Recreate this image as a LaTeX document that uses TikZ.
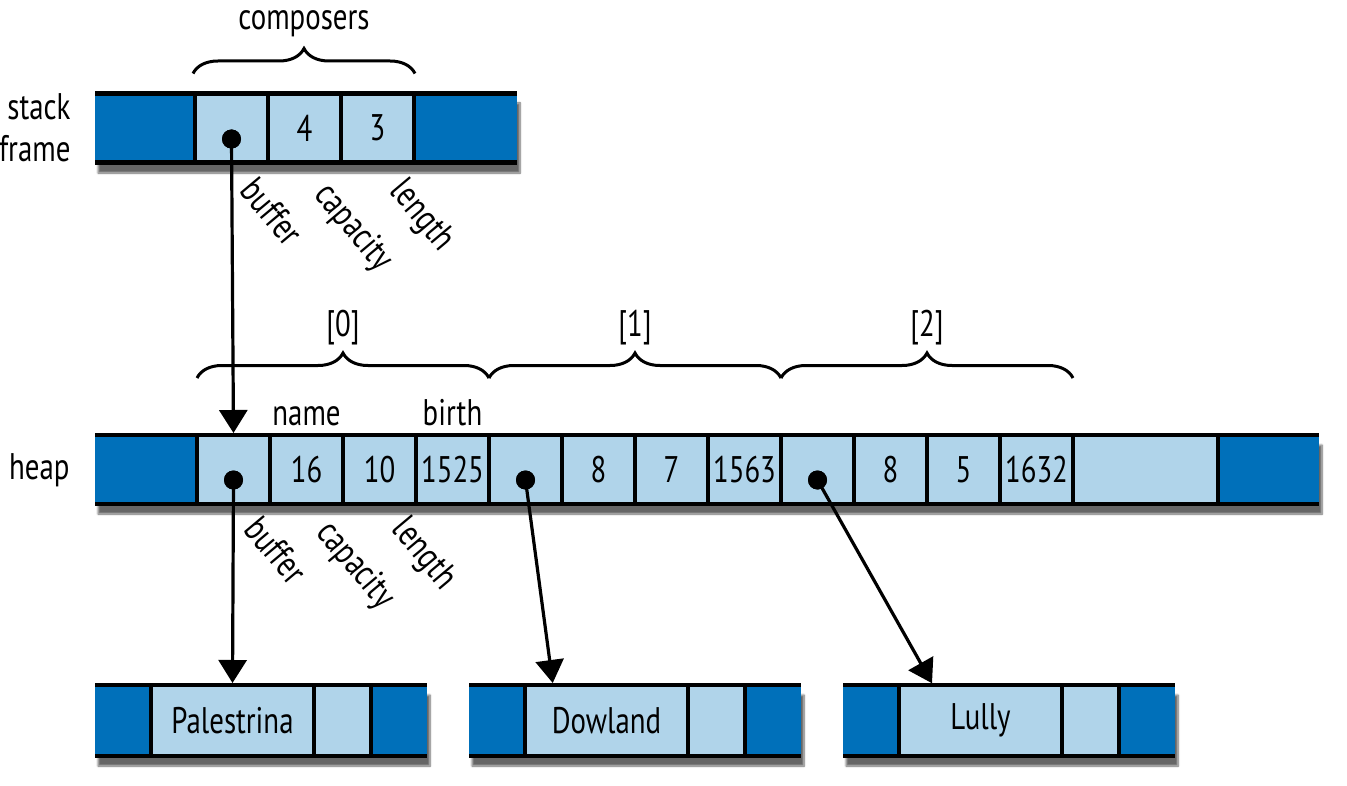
\documentclass[tikz,border=0pt]{standalone}
\usepackage{fontspec}
\setmainfont{PT Sans}[FakeStretch=0.78]
\usetikzlibrary{arrows.meta,decorations.pathreplacing,shadows.blur,calc}

\definecolor{darkcell}{RGB}{0,112,186}
\definecolor{lightcell}{RGB}{176,212,234}

\tikzset{
  cell/.style={fill=lightcell,minimum height=69pt,minimum width=73pt,inner sep=0pt,outer sep=0pt},
  endcell/.style={cell,fill=darkcell},
  rail/.style={line width=4.5pt},
  wall/.style={line width=4pt},
  ptr/.style={line width=3.2pt,shorten >=2pt,-{Triangle[width=28pt,length=23pt,fill=black]}},
  dot/.style={circle,fill=black,minimum size=19pt,inner sep=0pt},
  field/.style={rotate=-50,anchor=north west,inner sep=0pt},
  brc/.style={line width=3pt,decorate,decoration={brace,amplitude=25pt}},
  strip/.style={fill=white,blur shadow={shadow xshift=3pt,shadow yshift=-10pt,shadow blur steps=8,shadow opacity=60}},
}

\begin{document}
\begin{tikzpicture}[x=1pt,y=-1pt,font=\fontsize{37}{44}\selectfont]
  \useasboundingbox (0,0) rectangle (1347,786);

  % stack frame
  \fill[strip] (95,93) rectangle (517,163);
  \node[endcell,minimum width=100pt] (sL) at (145,128) {};
  \foreach \i/\v in {0/,1/4,2/3}
    \node[cell] (s\i) at (231.5+73*\i,128) {\v};
  \node[endcell,minimum width=103pt] (sR) at (465.5,128) {};
  \draw[rail] (sL.north west) -- (sR.north east) (sL.south west) -- (sR.south east);
  \foreach \i in {0,1,2}
    \draw[wall] (s\i.north west) -- (s\i.south west);
  \draw[wall] (sR.north west) -- (sR.south west);
  \node[dot] (sp) at ($(s0.center)+(0,11)$) {};

  \node[anchor=east,align=right,font=\fontsize{37}{42}\selectfont] (sf) at (74,128) {stack\\frame};
  \draw[brc] ($(s0.north west)+(-2,-20)$) -- ($(s2.north east)+(1,-20)$)
    node[midway,yshift=50pt] (cmp) {composers};
  \node[field] at ($(s0.south)+(27,12)$) {buffer};
  \node[field] at ($(s1.south)+(29,16)$) {capacity};
  \node[field] at ($(s2.south)+(31,12)$) {length};

  % heap
  \fill[strip] (95,435) rectangle (1319,504);
  \node[endcell,minimum width=102pt] (hL) at (146,469.5) {};
  \foreach \i/\v in {0/,1/16,2/10,3/1525,4/,5/8,6/7,7/1563,8/,9/8,10/5,11/1632}
    \node[cell] (h\i) at (233.5+73*\i,469.5) {\v};
  \node[cell,minimum width=145pt] (hX) at (1145.5,469.5) {};
  \node[endcell,minimum width=101pt] (hR) at (1268.5,469.5) {};
  \draw[rail] (hL.north west) -- (hR.north east) (hL.south west) -- (hR.south east);
  \foreach \n in {h0,h1,h2,h3,h4,h5,h6,h7,h8,h9,h10,h11,hX,hR}
    \draw[wall] (\n.north west) -- (\n.south west);
  \foreach \i in {0,4,8}
    \node[dot] (hp\i) at ($(h\i.center)+(0,10.5)$) {};

  \node[anchor=east] (hp) at (73,470) {heap};
  \node[anchor=base] at ($(h1.north)+(0,-10)$) {name};
  \node[anchor=base] at ($(h3.north)+(0,-10)$) {birth};
  \node[field] at ($(h0.south)+(29,9)$) {buffer};
  \node[field] at ($(h1.south)+(29,12)$) {capacity};
  \node[field] at ($(h2.south)+(31,9)$) {length};

  \draw[brc] ($(h0.north west)+(0,-57)$) -- ($(h3.north east)+(0,-57)$)
    node[midway,yshift=50pt] {[0]};
  \draw[brc] ($(h4.north west)+(0,-57)$) -- ($(h7.north east)+(0,-57)$)
    node[midway,yshift=50pt] {[1]};
  \draw[brc] ($(h8.north west)+(0,-57)$) -- ($(h11.north east)+(0,-57)$)
    node[midway,yshift=50pt] {[2]};

  % strings
  \foreach \x/\t/\n in {95/Palestrina/p,469/Dowland/d,843/Lully/l} {
    \fill[strip] (\x,685) rectangle (\x+332,756);
    \node[endcell,minimum width=56pt,minimum height=71pt] (\n0) at (\x+28,720.5) {};
    \node[cell,minimum width=163pt,minimum height=71pt] (\n1) at (\x+137.5,720.5) {\t};
    \node[cell,minimum width=57pt,minimum height=71pt] (\n2) at (\x+247.5,720.5) {};
    \node[endcell,minimum width=56pt,minimum height=71pt] (\n3) at (\x+304,720.5) {};
    \draw[rail] (\n0.north west) -- (\n3.north east) (\n0.south west) -- (\n3.south east);
    \foreach \k in {1,2,3}
      \draw[wall] (\n\k.north west) -- (\n\k.south west);
  }
  \coordinate (dt) at ($(d1.north west)+(28,0)$);
  \coordinate (lt) at ($(l1.north west)+(34,0)$);

  % pointers
  \draw[ptr] (sp.center) -- (h0.north);
  \draw[ptr] (hp0.center) -- (p1.north);
  \draw[ptr] (hp4.center) -- (dt);
  \draw[ptr] (hp8.center) -- (lt);
  \node[dot] at (sp) {};
  \foreach \i in {0,4,8}
    \node[dot] at (hp\i) {};
\end{tikzpicture}
\end{document}
